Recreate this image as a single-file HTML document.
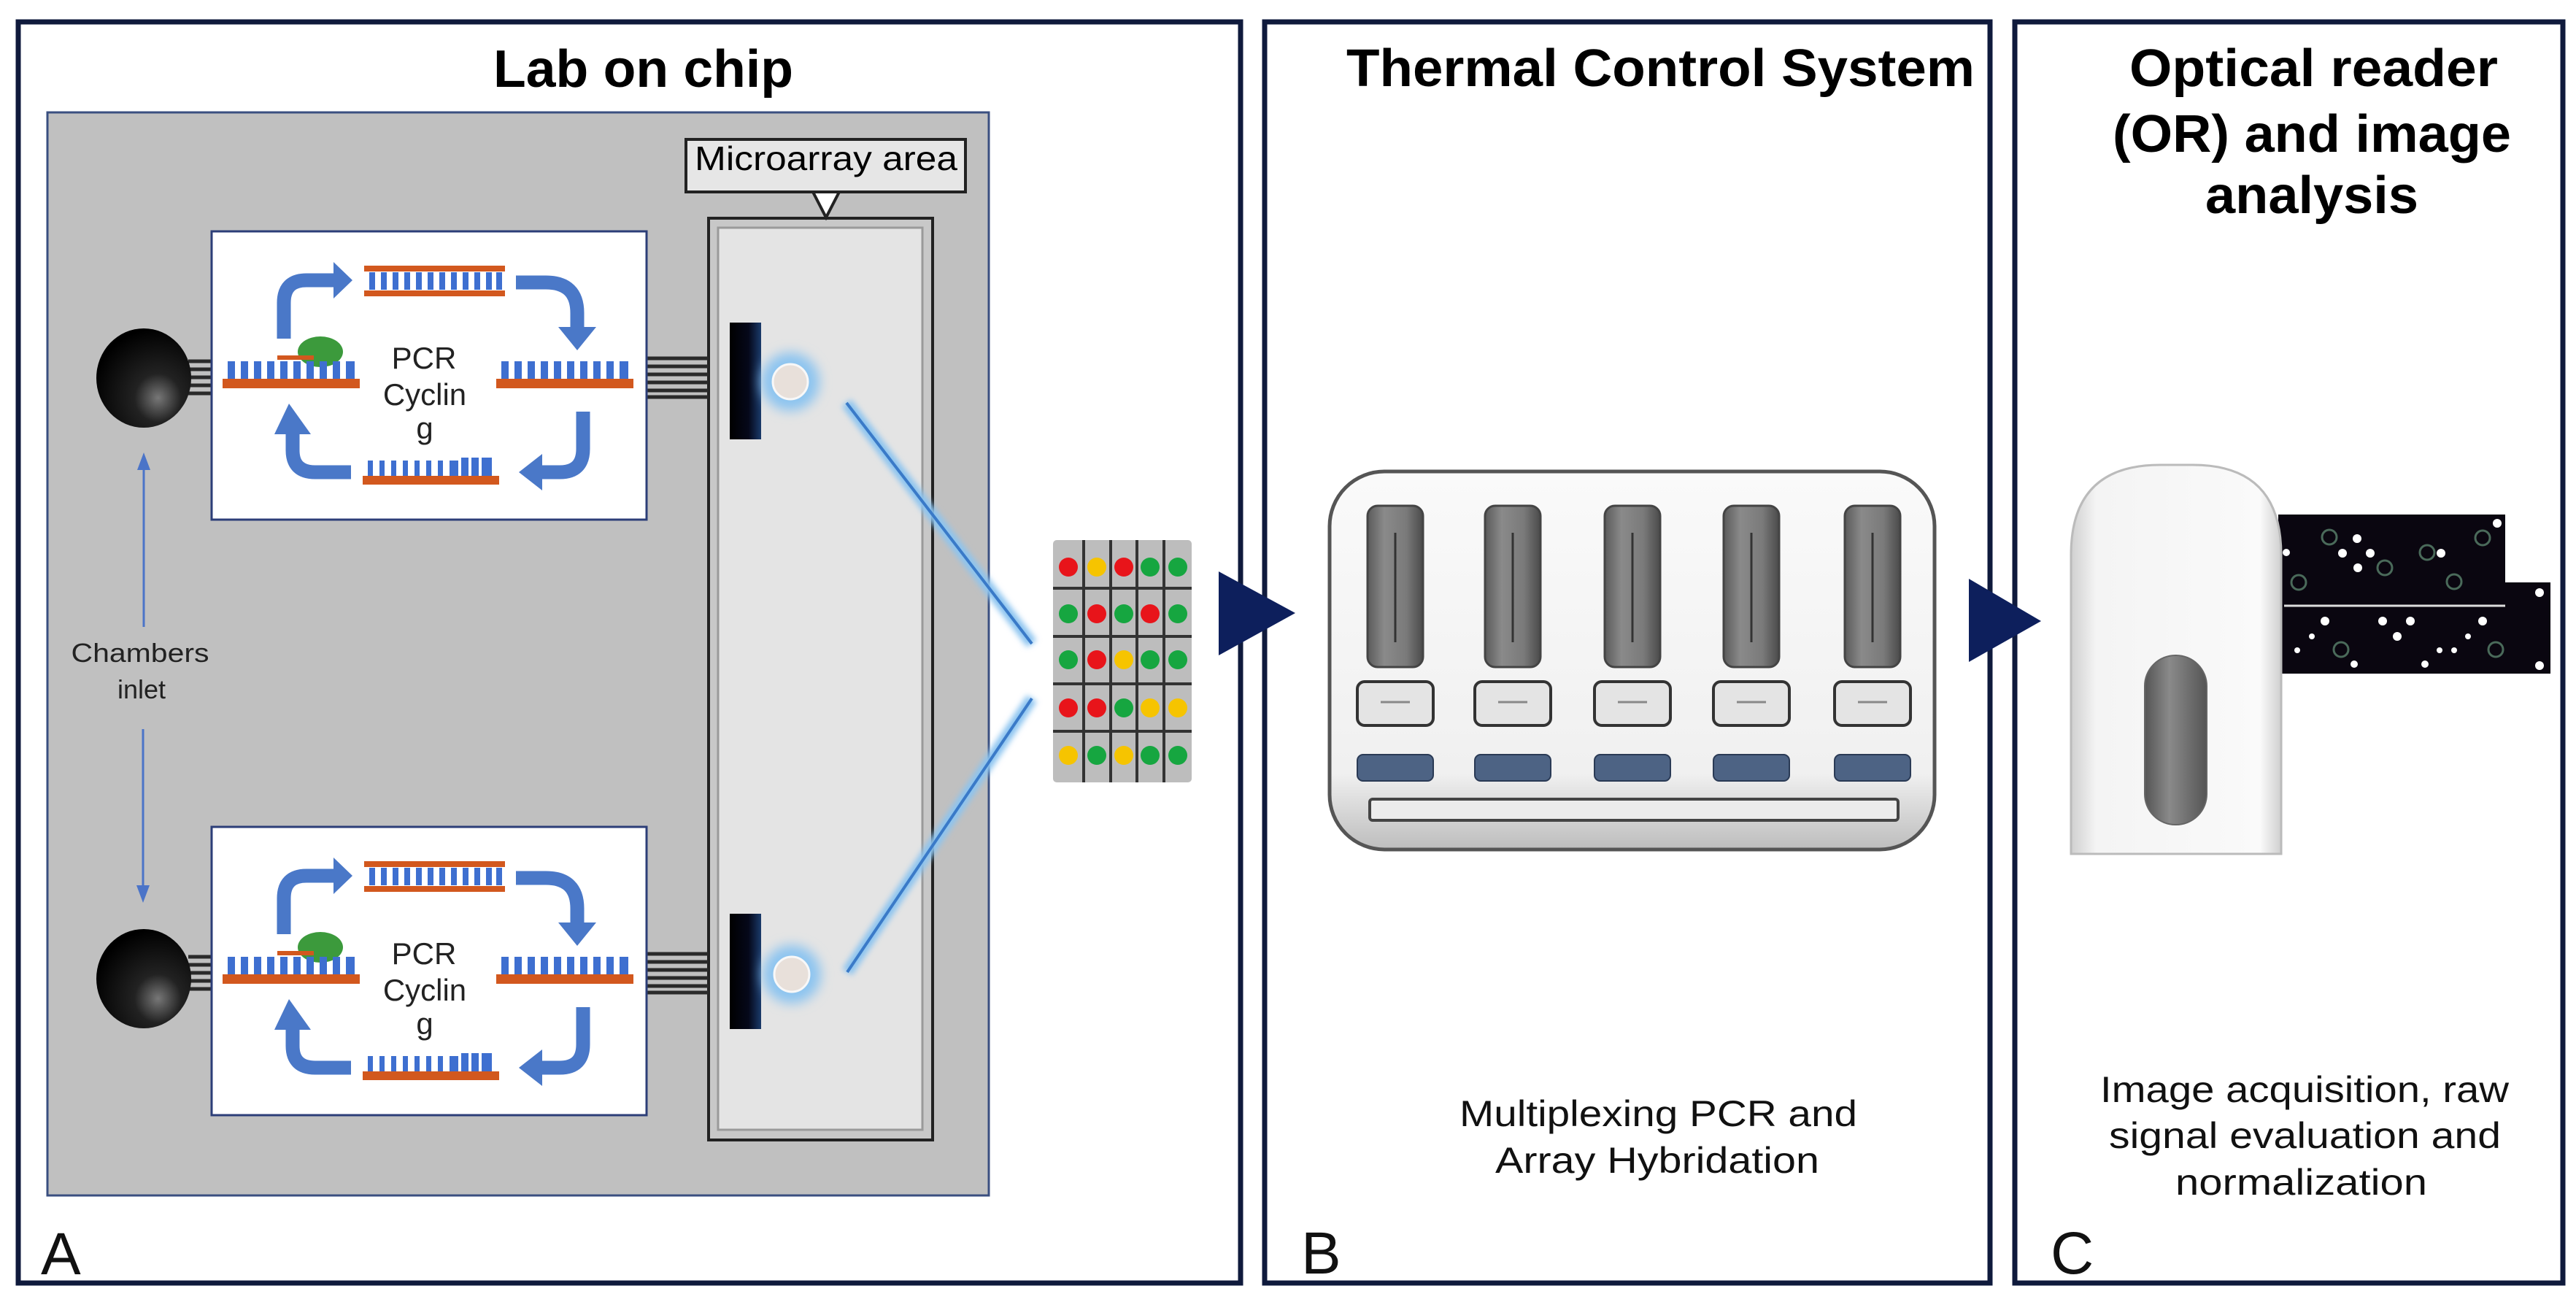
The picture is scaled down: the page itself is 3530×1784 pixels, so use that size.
<!DOCTYPE html>
<html><head><meta charset="utf-8">
<style>
html,body{margin:0;padding:0;background:#fff;}
svg{display:block;}
text{font-family:"Liberation Sans",Arial,sans-serif;}
</style></head>
<body>
<svg width="3530" height="1784" viewBox="0 0 3530 1784" xmlns="http://www.w3.org/2000/svg">
<defs>
  <radialGradient id="ball" cx="0.65" cy="0.7" r="0.7">
    <stop offset="0" stop-color="#777"/>
    <stop offset="0.35" stop-color="#222"/>
    <stop offset="1" stop-color="#000"/>
  </radialGradient>
  <linearGradient id="body" x1="0" y1="0" x2="0" y2="1">
    <stop offset="0" stop-color="#fafafa"/>
    <stop offset="0.8" stop-color="#f0f0f0"/>
    <stop offset="1" stop-color="#bdbdbd"/>
  </linearGradient>
  <linearGradient id="slot" x1="0" y1="0" x2="1" y2="0">
    <stop offset="0" stop-color="#5a5a5a"/>
    <stop offset="0.3" stop-color="#8a8a8a"/>
    <stop offset="0.7" stop-color="#7a7a7a"/>
    <stop offset="1" stop-color="#4a4a4a"/>
  </linearGradient>
  <linearGradient id="reader" x1="0" y1="0" x2="1" y2="0">
    <stop offset="0" stop-color="#d0d0d0"/>
    <stop offset="0.12" stop-color="#f4f4f4"/>
    <stop offset="0.9" stop-color="#fafafa"/>
    <stop offset="1" stop-color="#cfcfcf"/>
  </linearGradient>
  <linearGradient id="pill" x1="0" y1="0" x2="1" y2="0">
    <stop offset="0" stop-color="#555"/>
    <stop offset="0.4" stop-color="#8a8a8a"/>
    <stop offset="1" stop-color="#555"/>
  </linearGradient>
  <linearGradient id="bar" x1="0" y1="0" x2="1" y2="0">
    <stop offset="0" stop-color="#000"/>
    <stop offset="0.6" stop-color="#05081a"/>
    <stop offset="1" stop-color="#1a3a6a"/>
  </linearGradient>
  <filter id="blur" x="-50%" y="-50%" width="200%" height="200%"><feGaussianBlur stdDeviation="8"/></filter>
  <filter id="blur2" x="-50%" y="-50%" width="200%" height="200%"><feGaussianBlur stdDeviation="4"/></filter>

  <g id="pcr">
    <rect x="0" y="0" width="596" height="395" fill="#fff" stroke="#2c3e78" stroke-width="3"/>
    <rect x="209" y="47" width="193" height="8" fill="#d2581e"/>
    <rect x="209" y="81" width="193" height="8" fill="#d2581e"/>
    <path d="M216 56h8v24h-8zM232 56h8v24h-8zM248 56h8v24h-8zM264 56h8v24h-8zM280 56h8v24h-8zM296 56h8v24h-8zM312 56h8v24h-8zM328 56h8v24h-8zM344 56h8v24h-8zM360 56h8v24h-8zM376 56h8v24h-8zM390 56h8v24h-8z" fill="#3e6fd0"/>
    <ellipse cx="149" cy="165" rx="31" ry="21" fill="#3c9a3c"/>
    <rect x="90" y="170" width="50" height="6" fill="#d2581e"/>
    <rect x="15" y="202" width="188" height="13" fill="#d2581e"/>
    <path d="M22 178h10v24h-10zM40 178h10v24h-10zM58 178h10v24h-10zM76 178h10v24h-10zM94 178h10v24h-10zM112 178h10v24h-10zM130 178h10v24h-10zM148 178h10v24h-10zM166 178h10v24h-10zM184 178h12v24h-12z" fill="#3e6fd0"/>
    <rect x="390" y="202" width="188" height="13" fill="#d2581e"/>
    <path d="M397 178h10v24h-10zM415 178h10v24h-10zM433 178h10v24h-10zM451 178h10v24h-10zM469 178h10v24h-10zM487 178h10v24h-10zM505 178h10v24h-10zM523 178h10v24h-10zM541 178h10v24h-10zM559 178h12v24h-12z" fill="#3e6fd0"/>
    <rect x="207" y="335" width="187" height="12" fill="#d2581e"/>
    <path d="M214 314h7v21h-7zM230 314h7v21h-7zM246 314h7v21h-7zM262 314h7v21h-7zM278 314h7v21h-7zM294 314h7v21h-7zM310 314h7v21h-7zM326 314h12v21h-12zM342 310h10v25h-10zM356 310h10v25h-10zM370 310h14v25h-14z" fill="#3e6fd0"/>
    <g fill="none" stroke="#4a78c8" stroke-width="19">
      <path d="M99 147 V98 Q99 67 130 67 H170"/>
      <path d="M417 70 H458 Q501 70 501 112 V133"/>
      <path d="M509 247 V298 Q509 330 477 330 H451"/>
      <path d="M191 330 H142 Q111 330 111 300 V275"/>
    </g>
    <g fill="#4a78c8">
      <polygon points="167,42 167,92 193,67"/>
      <polygon points="475,131 527,131 501,163"/>
      <polygon points="453,305 453,355 421,330"/>
      <polygon points="86,278 136,278 106,236"/>
    </g>
  </g>
</defs>

<rect width="3530" height="1784" fill="#fff"/>

<rect x="25" y="30" width="1675" height="1728" fill="#fff" stroke="#0f1a3c" stroke-width="7"/>
<rect x="1733" y="30" width="994" height="1728" fill="#fff" stroke="#0f1a3c" stroke-width="7"/>
<rect x="2761" y="30" width="751" height="1728" fill="#fff" stroke="#0f1a3c" stroke-width="7"/>

<text x="676" y="119" font-size="72" font-weight="bold" textLength="411" lengthAdjust="spacingAndGlyphs">Lab on chip</text>
<text x="1845" y="118" font-size="72" font-weight="bold" textLength="861" lengthAdjust="spacingAndGlyphs">Thermal Control System</text>
<text x="2918" y="118" font-size="72" font-weight="bold" textLength="505" lengthAdjust="spacingAndGlyphs">Optical reader</text>
<text x="2895" y="208" font-size="72" font-weight="bold" textLength="546" lengthAdjust="spacingAndGlyphs">(OR) and image</text>
<text x="3022" y="292" font-size="72" font-weight="bold" textLength="292" lengthAdjust="spacingAndGlyphs">analysis</text>

<rect x="65" y="154" width="1290" height="1484" fill="#c0c0c0" stroke="#3a4f80" stroke-width="3"/>

<rect x="971" y="299" width="307" height="1263" fill="#c8c8c8" stroke="#222" stroke-width="4"/>
<rect x="984" y="312" width="280" height="1236" fill="#e4e4e4" stroke="#9a9a9a" stroke-width="3"/>
<rect x="940" y="191" width="383" height="72" fill="#e6e6e6" stroke="#222" stroke-width="4"/>
<text x="952" y="233" font-size="46" textLength="360" lengthAdjust="spacingAndGlyphs">Microarray area</text>
<polygon points="1114,263 1150,263 1132,298" fill="#fff" stroke="#222" stroke-width="4"/>

<g stroke="#2a2a2a" stroke-width="5">
  <line x1="258" y1="495" x2="292" y2="495"/><line x1="258" y1="506" x2="292" y2="506"/>
  <line x1="258" y1="517" x2="292" y2="517"/><line x1="258" y1="528" x2="292" y2="528"/>
  <line x1="258" y1="539" x2="292" y2="539"/>
  <line x1="885" y1="491" x2="971" y2="491"/><line x1="885" y1="502" x2="971" y2="502"/>
  <line x1="885" y1="513" x2="971" y2="513"/><line x1="885" y1="524" x2="971" y2="524"/>
  <line x1="885" y1="535" x2="971" y2="535"/><line x1="885" y1="544" x2="971" y2="544"/>
  <line x1="258" y1="1311" x2="292" y2="1311"/><line x1="258" y1="1322" x2="292" y2="1322"/>
  <line x1="258" y1="1333" x2="292" y2="1333"/><line x1="258" y1="1344" x2="292" y2="1344"/>
  <line x1="258" y1="1355" x2="292" y2="1355"/>
  <line x1="885" y1="1307" x2="971" y2="1307"/><line x1="885" y1="1318" x2="971" y2="1318"/>
  <line x1="885" y1="1329" x2="971" y2="1329"/><line x1="885" y1="1340" x2="971" y2="1340"/>
  <line x1="885" y1="1351" x2="971" y2="1351"/><line x1="885" y1="1360" x2="971" y2="1360"/>
</g>

<use href="#pcr" x="290" y="317"/>
<use href="#pcr" x="290" y="1133"/>
<g font-size="42" fill="#222" text-anchor="middle">
  <text x="581" y="505">PCR</text>
  <text x="582" y="555">Cyclin</text>
  <text x="582" y="601">g</text>
  <text x="581" y="1321">PCR</text>
  <text x="582" y="1371">Cyclin</text>
  <text x="582" y="1417">g</text>
</g>

<ellipse cx="197" cy="518" rx="65" ry="68" fill="url(#ball)"/>
<ellipse cx="197" cy="1341" rx="65" ry="68" fill="url(#ball)"/>

<text x="192" y="907" font-size="36" text-anchor="middle" fill="#222" textLength="189" lengthAdjust="spacingAndGlyphs">Chambers</text>
<text x="194" y="957" font-size="36" text-anchor="middle" fill="#222">inlet</text>
<g stroke="#4b74c8" stroke-width="3" fill="#4b74c8">
  <line x1="197" y1="859" x2="197" y2="640"/>
  <polygon points="197,620 188,644 206,644" stroke="none"/>
  <line x1="196" y1="999" x2="196" y2="1215"/>
  <polygon points="196,1237 187,1213 205,1213" stroke="none"/>
</g>

<rect x="1000" y="442" width="43" height="160" fill="url(#bar)"/>
<rect x="1000" y="1252" width="43" height="158" fill="url(#bar)"/>

<circle cx="1083" cy="523" r="40" fill="#8cc4f0" filter="url(#blur)"/>
<circle cx="1083" cy="523" r="24" fill="#e8e0da" stroke="#f8f8f8" stroke-width="3"/>
<circle cx="1085" cy="1335" r="40" fill="#8cc4f0" filter="url(#blur)"/>
<circle cx="1085" cy="1335" r="24" fill="#e8e0da" stroke="#f8f8f8" stroke-width="3"/>

<g stroke="#8cc4f0" stroke-width="16" filter="url(#blur2)">
  <line x1="1160" y1="552" x2="1414" y2="882"/>
  <line x1="1161" y1="1332" x2="1414" y2="957"/>
</g>
<g stroke="#3a7ac8" stroke-width="4">
  <line x1="1160" y1="552" x2="1414" y2="882"/>
  <line x1="1161" y1="1332" x2="1414" y2="957"/>
</g>

<rect x="1443" y="740" width="190" height="332" rx="5" fill="#bdbdbd"/>
<g stroke="#333" stroke-width="4">
  <line x1="1485" y1="740" x2="1485" y2="1072"/><line x1="1522" y1="740" x2="1522" y2="1072"/>
  <line x1="1558" y1="740" x2="1558" y2="1072"/><line x1="1595" y1="740" x2="1595" y2="1072"/>
  <line x1="1443" y1="806" x2="1633" y2="806"/><line x1="1443" y1="872" x2="1633" y2="872"/>
  <line x1="1443" y1="937" x2="1633" y2="937"/><line x1="1443" y1="1002" x2="1633" y2="1002"/>
</g>
<g>
  <circle cx="1464" cy="777" r="13" fill="#e8141a"/><circle cx="1503" cy="777" r="13" fill="#f6c400"/><circle cx="1540" cy="777" r="13" fill="#e8141a"/><circle cx="1576" cy="777" r="13" fill="#16a640"/><circle cx="1614" cy="777" r="13" fill="#16a640"/>
  <circle cx="1464" cy="841" r="13" fill="#16a640"/><circle cx="1503" cy="841" r="13" fill="#e8141a"/><circle cx="1540" cy="841" r="13" fill="#16a640"/><circle cx="1576" cy="841" r="13" fill="#e8141a"/><circle cx="1614" cy="841" r="13" fill="#16a640"/>
  <circle cx="1464" cy="904" r="13" fill="#16a640"/><circle cx="1503" cy="904" r="13" fill="#e8141a"/><circle cx="1540" cy="904" r="13" fill="#f6c400"/><circle cx="1576" cy="904" r="13" fill="#16a640"/><circle cx="1614" cy="904" r="13" fill="#16a640"/>
  <circle cx="1464" cy="970" r="13" fill="#e8141a"/><circle cx="1503" cy="970" r="13" fill="#e8141a"/><circle cx="1540" cy="970" r="13" fill="#16a640"/><circle cx="1576" cy="970" r="13" fill="#f6c400"/><circle cx="1614" cy="970" r="13" fill="#f6c400"/>
  <circle cx="1464" cy="1035" r="13" fill="#f6c400"/><circle cx="1503" cy="1035" r="13" fill="#16a640"/><circle cx="1540" cy="1035" r="13" fill="#f6c400"/><circle cx="1576" cy="1035" r="13" fill="#16a640"/><circle cx="1614" cy="1035" r="13" fill="#16a640"/>
</g>

<polygon points="1670,783 1670,898 1775,840" fill="#0d1f5c"/>
<polygon points="2698,793 2698,907 2797,851" fill="#0d1f5c"/>

<rect x="1822" y="646" width="829" height="518" rx="75" fill="url(#body)" stroke="#555" stroke-width="5"/>
<g>
  <rect x="1874" y="693" width="76" height="221" rx="14" fill="url(#slot)" stroke="#444" stroke-width="3"/>
  <rect x="2035" y="693" width="76" height="221" rx="14" fill="url(#slot)" stroke="#444" stroke-width="3"/>
  <rect x="2199" y="693" width="76" height="221" rx="14" fill="url(#slot)" stroke="#444" stroke-width="3"/>
  <rect x="2362" y="693" width="76" height="221" rx="14" fill="url(#slot)" stroke="#444" stroke-width="3"/>
  <rect x="2528" y="693" width="76" height="221" rx="14" fill="url(#slot)" stroke="#444" stroke-width="3"/>
</g>
<g stroke="#333" stroke-width="3">
  <line x1="1912" y1="730" x2="1912" y2="880"/><line x1="2073" y1="730" x2="2073" y2="880"/>
  <line x1="2237" y1="730" x2="2237" y2="880"/><line x1="2400" y1="730" x2="2400" y2="880"/>
  <line x1="2566" y1="730" x2="2566" y2="880"/>
</g>
<g fill="#e4e4e4" stroke="#333" stroke-width="4">
  <rect x="1860" y="934" width="104" height="60" rx="10"/>
  <rect x="2021" y="934" width="104" height="60" rx="10"/>
  <rect x="2185" y="934" width="104" height="60" rx="10"/>
  <rect x="2348" y="934" width="104" height="60" rx="10"/>
  <rect x="2514" y="934" width="104" height="60" rx="10"/>
</g>
<g stroke="#888" stroke-width="3" fill="none">
  <path d="M1892 962h40"/><path d="M2053 962h40"/><path d="M2217 962h40"/><path d="M2380 962h40"/><path d="M2546 962h40"/>
</g>
<g fill="#4d6384" stroke="#2a3a55" stroke-width="2">
  <rect x="1860" y="1034" width="104" height="36" rx="8"/>
  <rect x="2021" y="1034" width="104" height="36" rx="8"/>
  <rect x="2185" y="1034" width="104" height="36" rx="8"/>
  <rect x="2348" y="1034" width="104" height="36" rx="8"/>
  <rect x="2514" y="1034" width="104" height="36" rx="8"/>
</g>
<rect x="1877" y="1095" width="724" height="29" rx="4" fill="#ececec" stroke="#444" stroke-width="4"/>

<rect x="3122" y="798" width="373" height="125" fill="#0a0610"/>
<rect x="3122" y="705" width="311" height="122" fill="#0a0610"/>
<line x1="3130" y1="830" x2="3433" y2="830" stroke="#ddd" stroke-width="3"/>
<g fill="#fff">
  <circle cx="3230" cy="738" r="6"/><circle cx="3210" cy="758" r="6"/><circle cx="3248" cy="758" r="6"/><circle cx="3231" cy="778" r="6"/>
  <circle cx="3133" cy="757" r="5"/><circle cx="3345" cy="758" r="6"/><circle cx="3422" cy="717" r="6"/>
  <circle cx="3186" cy="851" r="6"/><circle cx="3265" cy="851" r="6"/><circle cx="3303" cy="851" r="6"/><circle cx="3285" cy="872" r="6"/>
  <circle cx="3402" cy="851" r="6"/><circle cx="3480" cy="812" r="6"/><circle cx="3480" cy="912" r="6"/><circle cx="3226" cy="910" r="5"/><circle cx="3323" cy="910" r="5"/>
  <circle cx="3382" cy="872" r="4"/><circle cx="3168" cy="872" r="4"/><circle cx="3148" cy="891" r="4"/><circle cx="3343" cy="891" r="4"/><circle cx="3363" cy="891" r="4"/>
</g>
<g fill="none" stroke="#4a6a5a" stroke-width="3">
  <circle cx="3192" cy="736" r="10"/><circle cx="3150" cy="798" r="10"/><circle cx="3326" cy="757" r="10"/><circle cx="3363" cy="797" r="10"/>
  <circle cx="3268" cy="778" r="10"/><circle cx="3402" cy="737" r="10"/><circle cx="3208" cy="890" r="10"/><circle cx="3420" cy="890" r="10"/>
</g>

<path d="M2838 1170 V760 Q2838 637 2960 637 H3005 Q3126 637 3126 760 V1170 Z" fill="url(#reader)" stroke="#bbb" stroke-width="3"/>
<rect x="2939" y="898" width="85" height="232" rx="42" fill="url(#pill)" stroke="#666" stroke-width="2"/>

<g font-size="50" fill="#111">
  <text x="2000" y="1543" textLength="545" lengthAdjust="spacingAndGlyphs">Multiplexing PCR and</text>
  <text x="2049" y="1607" textLength="444" lengthAdjust="spacingAndGlyphs">Array Hybridation</text>
  <text x="2878" y="1510" textLength="560" lengthAdjust="spacingAndGlyphs">Image acquisition, raw</text>
  <text x="2890" y="1573" textLength="537" lengthAdjust="spacingAndGlyphs">signal evaluation and</text>
  <text x="2981" y="1637" textLength="345" lengthAdjust="spacingAndGlyphs">normalization</text>
</g>

<g font-size="82" fill="#111">
  <text x="56" y="1746">A</text>
  <text x="1783" y="1745">B</text>
  <text x="2810" y="1745">C</text>
</g>
</svg>
</body></html>
